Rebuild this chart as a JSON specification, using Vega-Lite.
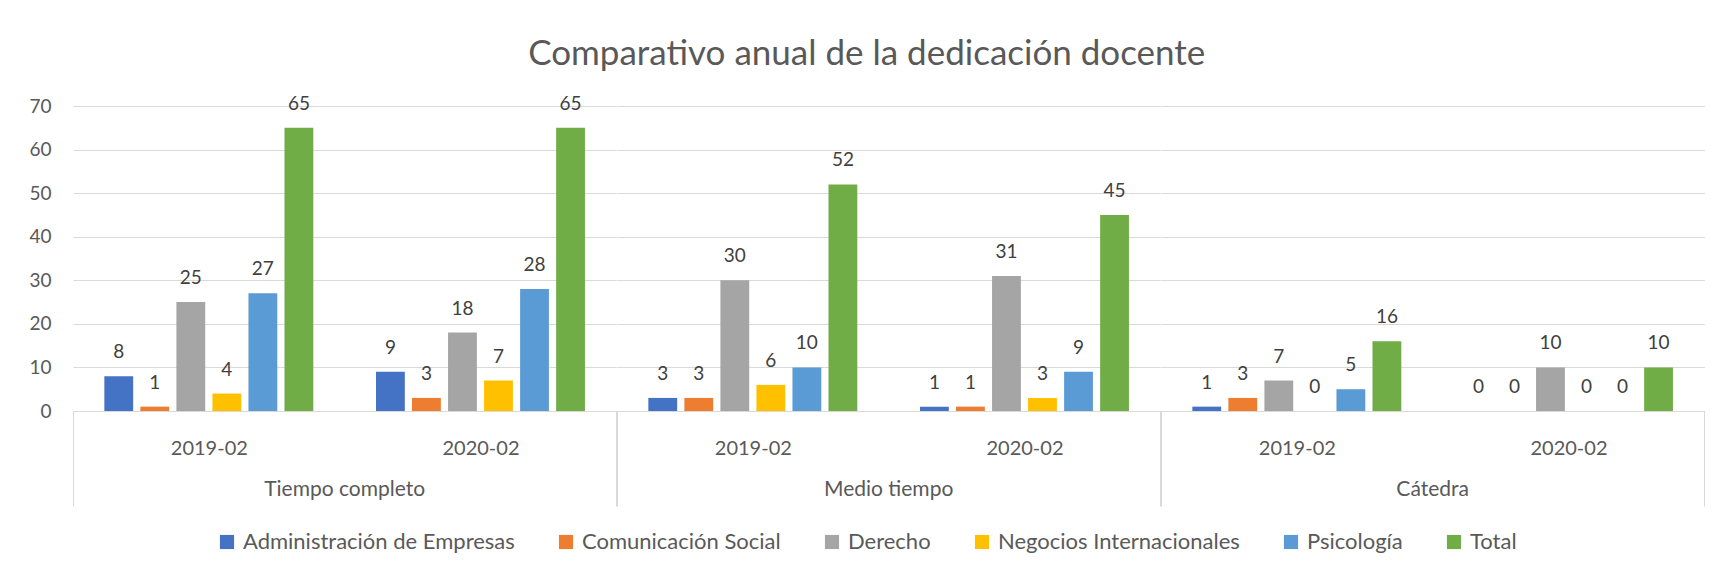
{
  "$schema": "https://vega.github.io/schema/vega-lite/v6.json",
  "padding": {"left": 28, "top": 36, "right": 5, "bottom": 5},
  "background": "white",
  "config": {"font": "Lato", "view": {"stroke": null}, "legend": {"layout": {"bottom": {"anchor": "middle"}}}},
  "title": {"text": "Comparativo anual de la dedicación docente", "fontSize": 35, "font": "Lato", "fontWeight": "normal", "color": "#595959", "anchor": "middle", "offset": 23},
  "data": {"values": [
    {"dedicacion": "Tiempo completo", "periodo": "2019-02", "programa": "Administración de Empresas", "docentes": 8},
    {"dedicacion": "Tiempo completo", "periodo": "2019-02", "programa": "Comunicación Social", "docentes": 1},
    {"dedicacion": "Tiempo completo", "periodo": "2019-02", "programa": "Derecho", "docentes": 25},
    {"dedicacion": "Tiempo completo", "periodo": "2019-02", "programa": "Negocios Internacionales", "docentes": 4},
    {"dedicacion": "Tiempo completo", "periodo": "2019-02", "programa": "Psicología", "docentes": 27},
    {"dedicacion": "Tiempo completo", "periodo": "2019-02", "programa": "Total", "docentes": 65},
    {"dedicacion": "Tiempo completo", "periodo": "2020-02", "programa": "Administración de Empresas", "docentes": 9},
    {"dedicacion": "Tiempo completo", "periodo": "2020-02", "programa": "Comunicación Social", "docentes": 3},
    {"dedicacion": "Tiempo completo", "periodo": "2020-02", "programa": "Derecho", "docentes": 18},
    {"dedicacion": "Tiempo completo", "periodo": "2020-02", "programa": "Negocios Internacionales", "docentes": 7},
    {"dedicacion": "Tiempo completo", "periodo": "2020-02", "programa": "Psicología", "docentes": 28},
    {"dedicacion": "Tiempo completo", "periodo": "2020-02", "programa": "Total", "docentes": 65},
    {"dedicacion": "Medio tiempo", "periodo": "2019-02", "programa": "Administración de Empresas", "docentes": 3},
    {"dedicacion": "Medio tiempo", "periodo": "2019-02", "programa": "Comunicación Social", "docentes": 3},
    {"dedicacion": "Medio tiempo", "periodo": "2019-02", "programa": "Derecho", "docentes": 30},
    {"dedicacion": "Medio tiempo", "periodo": "2019-02", "programa": "Negocios Internacionales", "docentes": 6},
    {"dedicacion": "Medio tiempo", "periodo": "2019-02", "programa": "Psicología", "docentes": 10},
    {"dedicacion": "Medio tiempo", "periodo": "2019-02", "programa": "Total", "docentes": 52},
    {"dedicacion": "Medio tiempo", "periodo": "2020-02", "programa": "Administración de Empresas", "docentes": 1},
    {"dedicacion": "Medio tiempo", "periodo": "2020-02", "programa": "Comunicación Social", "docentes": 1},
    {"dedicacion": "Medio tiempo", "periodo": "2020-02", "programa": "Derecho", "docentes": 31},
    {"dedicacion": "Medio tiempo", "periodo": "2020-02", "programa": "Negocios Internacionales", "docentes": 3},
    {"dedicacion": "Medio tiempo", "periodo": "2020-02", "programa": "Psicología", "docentes": 9},
    {"dedicacion": "Medio tiempo", "periodo": "2020-02", "programa": "Total", "docentes": 45},
    {"dedicacion": "Cátedra", "periodo": "2019-02", "programa": "Administración de Empresas", "docentes": 1},
    {"dedicacion": "Cátedra", "periodo": "2019-02", "programa": "Comunicación Social", "docentes": 3},
    {"dedicacion": "Cátedra", "periodo": "2019-02", "programa": "Derecho", "docentes": 7},
    {"dedicacion": "Cátedra", "periodo": "2019-02", "programa": "Negocios Internacionales", "docentes": 0},
    {"dedicacion": "Cátedra", "periodo": "2019-02", "programa": "Psicología", "docentes": 5},
    {"dedicacion": "Cátedra", "periodo": "2019-02", "programa": "Total", "docentes": 16},
    {"dedicacion": "Cátedra", "periodo": "2020-02", "programa": "Administración de Empresas", "docentes": 0},
    {"dedicacion": "Cátedra", "periodo": "2020-02", "programa": "Comunicación Social", "docentes": 0},
    {"dedicacion": "Cátedra", "periodo": "2020-02", "programa": "Derecho", "docentes": 10},
    {"dedicacion": "Cátedra", "periodo": "2020-02", "programa": "Negocios Internacionales", "docentes": 0},
    {"dedicacion": "Cátedra", "periodo": "2020-02", "programa": "Psicología", "docentes": 0},
    {"dedicacion": "Cátedra", "periodo": "2020-02", "programa": "Total", "docentes": 10}
  ]},
  "facet": {
    "column": {
      "field": "dedicacion", "type": "nominal",
      "sort": ["Tiempo completo", "Medio tiempo", "Cátedra"],
      "header": {"title": null, "labelOrient": "bottom", "labelFontSize": 21, "labelFont": "Lato", "labelColor": "#595959", "labelPadding": -28}
    }
  },
  "spacing": 0,
  "spec": {
    "width": 543.3,
    "height": 305,
    "encoding": {
      "x": {
        "field": "periodo", "type": "nominal",
        "scale": {"paddingInner": 0, "paddingOuter": 0},
        "axis": {
          "title": null, "labelAngle": 0, "tickBand": "extent", "tickSize": 95,
          "tickColor": {"condition": {"test": "datum.value === '2019-02'", "value": "transparent"}, "value": "#d9d9d9"},
          "labelPadding": -68, "labelFontSize": 20, "labelFont": "Lato", "labelColor": "#595959",
          "domainColor": "#d9d9d9"
        }
      },
      "xOffset": {
        "field": "programa", "type": "nominal",
        "sort": ["Administración de Empresas", "Comunicación Social", "Derecho", "Negocios Internacionales", "Psicología", "Total"],
        "scale": {"paddingInner": 0.2, "paddingOuter": 0.87}
      },
      "y": {
        "field": "docentes", "type": "quantitative",
        "scale": {"domain": [0, 70]},
        "axis": {
          "title": null, "values": [0, 10, 20, 30, 40, 50, 60, 70], "grid": true, "gridColor": "#d9d9d9",
          "domain": false, "ticks": false, "labelPadding": 22, "labelFontSize": 19, "labelFont": "Lato", "labelColor": "#595959"
        }
      }
    },
    "layer": [
      {
        "mark": {"type": "bar"},
        "encoding": {
          "color": {
            "field": "programa", "type": "nominal",
            "sort": ["Administración de Empresas", "Comunicación Social", "Derecho", "Negocios Internacionales", "Psicología", "Total"],
            "scale": {"range": ["#4472C4", "#ED7D31", "#A5A5A5", "#FFC000", "#5B9BD5", "#70AD47"]},
            "legend": {
              "title": null, "orient": "bottom", "direction": "horizontal", "symbolType": "square",
              "symbolSize": 200, "symbolStrokeWidth": 0, "labelFontSize": 22, "labelFont": "Lato",
              "labelColor": "#595959", "labelLimit": 500, "columnPadding": 40, "labelOffset": 5, "offset": 24
            }
          }
        }
      },
      {
        "mark": {"type": "text", "baseline": "alphabetic", "dy": -18, "fontSize": 19, "font": "Lato", "color": "#404040"},
        "encoding": {"text": {"field": "docentes", "type": "quantitative"}}
      }
    ]
  }
}
